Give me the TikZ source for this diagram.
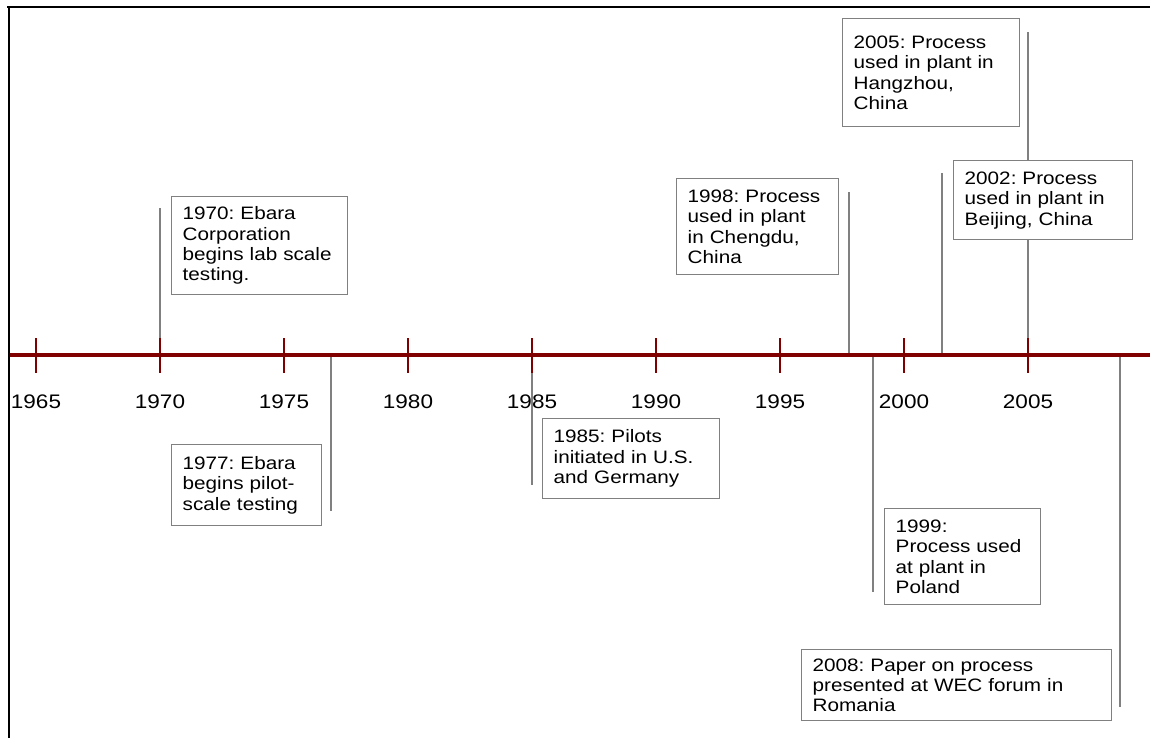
\documentclass[tikz,border=0pt]{standalone}
\usepackage{fontspec}
\setmainfont{Liberation Sans}[FakeStretch=1.15]
\usepackage{tikz}
\usetikzlibrary{positioning, calc}
\definecolor{asse}{RGB}{128,0,0}
\definecolor{grigio}{RGB}{128,128,128}
\frenchspacing

\begin{document}
\begin{tikzpicture}[x=0.5pt,y=-0.5pt,
  evt/.style={draw=grigio, fill=white, line width=0.7pt, anchor=north west, align=left,
    inner xsep=5.5pt, inner ysep=3pt, font=\fontsize{9}{10.2}\selectfont},
  guida/.style={grigio, line width=0.6pt}]

\useasboundingbox (0,0) rectangle (1150,738);

% --- Cornice
\draw[line width=1pt] (7,6.7) -- (1150,6.7);
\draw[line width=1pt] (9,6.7) -- (9,738);

% --- Linee guida degli eventi
\foreach \anno/\xx/\yy in {1970/160/208, 1977/331/511, 1985/532/485, 1998/849/192,
                            1999/873/592, 2002/942/173, 2005/1028/32, 2008/1120/707}{
  \coordinate (a\anno) at (\xx,355);
  \coordinate (e\anno) at (\xx,\yy);
  \draw[guida] (a\anno) -- (e\anno);
}

% --- Asse dei tempi
\draw[asse, line width=2pt] (10,355.3) -- (1150,355.3);
\foreach \yr [count=\i from 0] in {1965,1970,...,2005}{
  \pgfmathsetmacro{\xt}{36+124*\i}
  \draw[asse, line width=1pt] (\xt,338) -- (\xt,373);
  \node[font=\fontsize{9.8}{11}\selectfont] (y\yr) at (\xt,401.5) {\yr};
}

% --- Riquadri degli eventi
\node[evt, text width=77pt, minimum height=49pt] (b1970) at (171,196)
  {1970: Ebara\\Corporation\\begins lab scale\\testing.};
\node[evt, text width=64pt, minimum height=40.5pt] (b1977) at (171,444)
  {1977: Ebara\\begins pilot-\\scale testing};
\node[evt, text width=77.5pt, minimum height=40pt] (b1985) at (542,418)
  {1985: Pilots\\initiated in U.S.\\and Germany};
\node[evt, text width=70pt, minimum height=48pt] (b1998) at (676,178)
  {1998: Process\\used in plant\\in Chengdu,\\China};
\node[evt, text width=67pt, minimum height=48pt] (b1999) at (884,508)
  {1999:\\Process used\\at plant in\\Poland};
\node[evt, text width=78.5pt, minimum height=39.5pt] (b2002) at (953,160)
  {2002: Process\\used in plant in\\Beijing, China};
\node[evt, text width=77.5pt, minimum height=54pt] (b2005) at (842,18)
  {2005: Process\\used in plant in\\Hangzhou,\\China};
\node[evt, text width=144pt, minimum height=35.5pt] (b2008) at (801,649)
  {2008: Paper on process\\presented at WEC forum in\\Romania};

\end{tikzpicture}
\end{document}
